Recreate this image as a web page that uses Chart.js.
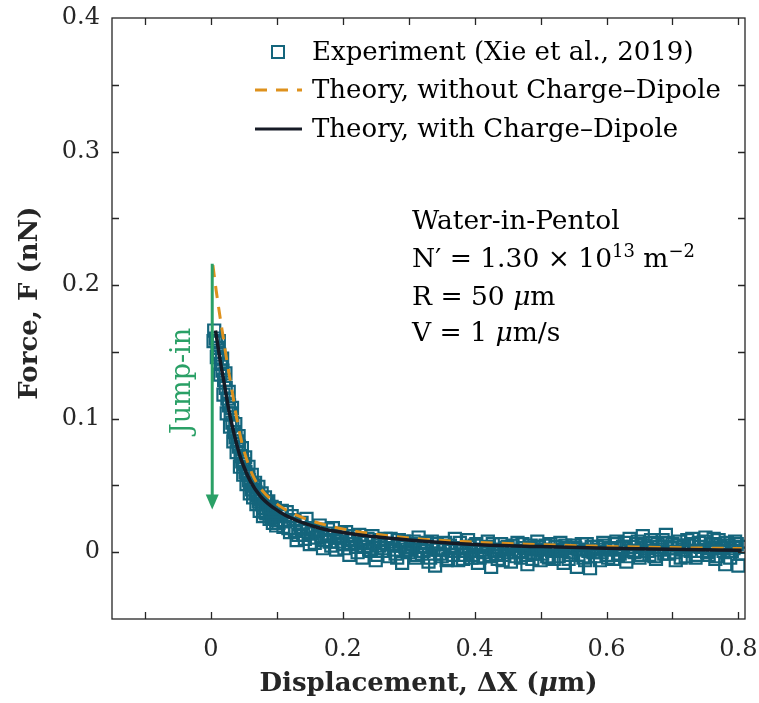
<!DOCTYPE html>
<html>
<head>
<meta charset="utf-8">
<script src="https://cdn.jsdelivr.net/npm/chart.js@4.4.0/dist/chart.umd.min.js"></script>
<style>
  html, body { margin: 0; padding: 0; background: #fff; }
</style>
</head>
<body>
<canvas id="chart" width="759" height="703"></canvas>
<script>
// Experiment (Xie et al., 2019) - main pass
const expX = [0.005,0.0075,0.010,0.0125,0.015,0.0175,0.020,0.0225,0.025,0.0275,
  0.030,0.0325,0.035,0.0375,0.040,0.0425,0.045,0.0475,0.050,0.0525,
  0.055,0.0575,0.060,0.0625,0.065,0.0675,0.070,0.0725,0.075,0.0775,
  0.080,0.0825,0.085,0.0875,0.090,0.0925,0.095,0.0975,0.100,
  0.105,0.110,0.115,0.120,0.125,0.130,0.135,0.140,0.145,0.150,
  0.155,0.160,0.165,0.170,0.175,0.180,0.185,0.190,0.195,0.200,
  0.205,0.210,0.215,0.220,0.225,0.230,0.235,0.240,0.245,0.250,
  0.255,0.260,0.265,0.270,0.275,0.280,0.285,0.290,0.295,0.300,
  0.305,0.310,0.315,0.320,0.325,0.330,0.335,0.340,0.345,0.350,
  0.355,0.360,0.365,0.370,0.375,0.380,0.385,0.390,0.395,0.400,
  0.405,0.410,0.415,0.420,0.425,0.430,0.435,0.440,0.445,0.450,
  0.455,0.460,0.465,0.470,0.475,0.480,0.485,0.490,0.495,0.500,
  0.505,0.510,0.515,0.520,0.525,0.530,0.535,0.540,0.545,0.550,
  0.555,0.560,0.565,0.570,0.575,0.580,0.585,0.590,0.595,0.600,
  0.605,0.610,0.615,0.620,0.625,0.630,0.635,0.640,0.645,0.650,
  0.655,0.660,0.665,0.670,0.675,0.680,0.685,0.690,0.695,0.700,
  0.705,0.710,0.715,0.720,0.725,0.730,0.735,0.740,0.745,0.750,
  0.755,0.760,0.765,0.770,0.775,0.780,0.785,0.790,0.795,0.800,
  0.805];
const expY = [0.166,0.160,0.153,0.148,0.141,0.136,0.129,0.123,0.115,0.110,
  0.104,0.097,0.090,0.086,0.083,0.079,0.072,0.068,0.066,0.060,
  0.058,0.054,0.052,0.047,0.050,0.045,0.043,0.038,0.040,0.036,
  0.033,0.030,0.037,0.034,0.029,0.026,0.032,0.028,0.024,
  0.027,0.019,0.030,0.015,0.024,0.009,0.021,0.013,0.025,0.006,
  0.017,0.011,0.020,0.003,0.014,0.008,0.018,0.002,0.011,0.006,
  0.015,-0.002,0.009,0.004,0.013,-0.004,0.007,0.002,0.012,-0.006,
  0.005,0.001,0.010,-0.003,0.006,-0.001,0.009,-0.008,0.004,0.000,
  0.006,-0.004,0.011,-0.001,0.004,-0.007,0.008,-0.010,0.002,-0.003,
  0.007,-0.005,0.001,0.010,-0.006,0.003,-0.002,0.009,-0.004,0.005,
  -0.008,0.002,-0.003,0.008,-0.011,0.001,-0.005,0.006,-0.002,0.004,
  -0.007,0.000,0.007,-0.004,0.003,-0.009,0.005,-0.001,0.008,-0.006,
  0.002,-0.003,0.006,-0.005,0.001,0.007,-0.008,0.003,-0.002,0.005,
  -0.011,0.002,-0.004,0.006,-0.012,0.000,0.004,-0.006,0.007,-0.002,
  0.003,-0.005,0.008,-0.001,0.004,-0.007,0.010,0.001,0.006,-0.004,
  0.012,0.003,-0.002,0.007,-0.005,0.004,0.009,0.013,-0.001,0.006,
  -0.006,0.008,0.002,-0.003,0.005,0.010,-0.004,0.007,0.001,0.011,
  -0.002,0.006,-0.005,0.009,0.003,-0.009,0.005,0.001,0.008,-0.010,
  0.004];

// second pass, filling the band
const expX2 = [0.1025,0.1075,0.1125,0.1175,0.1225,0.1275,0.1325,0.1375,0.1425,0.1475,
  0.1525,0.1575,0.1625,0.1675,0.1725,0.1775,0.1825,0.1875,0.1925,0.1975,
  0.2025,0.2075,0.2125,0.2175,0.2225,0.2275,0.2325,0.2375,0.2425,0.2475,
  0.2525,0.2575,0.2625,0.2675,0.2725,0.2775,0.2825,0.2875,0.2925,0.2975,
  0.3025,0.3075,0.3125,0.3175,0.3225,0.3275,0.3325,0.3375,0.3425,0.3475,
  0.3525,0.3575,0.3625,0.3675,0.3725,0.3775,0.3825,0.3875,0.3925,0.3975,
  0.4025,0.4075,0.4125,0.4175,0.4225,0.4275,0.4325,0.4375,0.4425,0.4475,
  0.4525,0.4575,0.4625,0.4675,0.4725,0.4775,0.4825,0.4875,0.4925,0.4975,
  0.5025,0.5075,0.5125,0.5175,0.5225,0.5275,0.5325,0.5375,0.5425,0.5475,
  0.5525,0.5575,0.5625,0.5675,0.5725,0.5775,0.5825,0.5875,0.5925,0.5975,
  0.6025,0.6075,0.6125,0.6175,0.6225,0.6275,0.6325,0.6375,0.6425,0.6475,
  0.6525,0.6575,0.6625,0.6675,0.6725,0.6775,0.6825,0.6875,0.6925,0.6975,
  0.7025,0.7075,0.7125,0.7175,0.7225,0.7275,0.7325,0.7375,0.7425,0.7475,
  0.7525,0.7575,0.7625,0.7675,0.7725,0.7775,0.7825,0.7875,0.7925,0.7975,
  0.8025];
const expY2 = [0.022,0.031,0.023,0.018,0.027,0.016,0.013,0.022,0.010,0.018,
  0.014,0.007,0.016,0.012,0.009,0.017,0.005,0.012,0.008,0.014,
  0.003,0.010,0.006,0.012,0.000,0.008,0.004,0.010,0.001,0.007,
  -0.002,0.009,0.003,0.006,0.010,0.002,-0.004,0.005,0.008,0.002,
  0.002,0.008,-0.002,0.004,0.001,0.007,-0.004,0.003,0.006,-0.001,
  0.002,-0.006,0.005,-0.002,0.003,0.007,-0.005,0.001,0.004,-0.002,
  0.006,-0.004,0.000,0.004,-0.003,0.006,-0.001,0.002,-0.006,0.003,
  0.000,0.005,-0.003,0.001,0.006,-0.002,0.003,-0.005,0.002,0.004,
  -0.001,0.005,-0.004,0.001,0.004,-0.003,0.002,0.005,-0.005,0.000,
  0.003,-0.002,0.006,-0.006,0.001,0.004,-0.003,0.002,0.000,0.005,
  -0.004,0.002,0.006,-0.002,0.003,0.007,-0.003,0.004,0.000,0.008,
  -0.002,0.005,0.001,0.009,-0.003,0.006,0.002,-0.001,0.007,0.003,
  0.000,0.005,-0.004,0.004,0.009,0.001,0.006,-0.002,0.004,0.008,
  0.000,0.003,0.010,-0.003,0.005,0.001,0.007,-0.004,0.003,0.006,
  -0.001];

// extra points on the steep part
const expX3 = [0.004,0.009,0.014,0.019,0.024,0.029,0.034,0.039,0.044,0.049,
  0.054,0.059,0.064,0.069,0.074,0.079,0.084,0.089,0.094,0.099,
  0.012,0.017,0.022,0.027,0.032,0.037,0.042,0.047,0.052,0.057,
  0.062,0.067,0.072,0.077,0.082,0.087,0.092,0.097];
const expY3 = [0.158,0.146,0.133,0.118,0.104,0.094,0.083,0.075,0.064,0.058,
  0.051,0.044,0.041,0.036,0.031,0.027,0.029,0.025,0.022,0.020,
  0.158,0.145,0.134,0.120,0.108,0.096,0.087,0.078,0.071,0.064,
  0.058,0.052,0.049,0.044,0.041,0.038,0.034,0.033];

// Theory, without Charge–Dipole
const noDipX = [0.003,0.008,0.013,0.018,0.024,0.032,0.040,0.048,0.056,0.065,0.080,0.095,0.12,0.15,0.185,0.25,0.32,0.39,0.48,0.58,0.68,0.805];
const noDipY = [0.215,0.196,0.179,0.163,0.144,0.121,0.098,0.080,0.067,0.056,0.045,0.038,0.030,0.024,0.019,0.0135,0.0098,0.0078,0.006,0.0046,0.0036,0.0027];

// Theory, with Charge–Dipole
const dipX = [0.007,0.012,0.016,0.020,0.027,0.035,0.043,0.050,0.060,0.075,0.090,0.105,0.120,0.140,0.166,0.20,0.25,0.30,0.40,0.50,0.60,0.70,0.805];
const dipY = [0.166,0.150,0.138,0.127,0.107,0.089,0.074,0.064,0.053,0.042,0.035,0.030,0.026,0.022,0.018,0.0148,0.0115,0.0092,0.0058,0.0042,0.003,0.0022,0.0014];

const xTicks = [0, 0.2, 0.4, 0.6, 0.8];
const yTicks = [0, 0.1, 0.2, 0.3, 0.4];

const teal = '#14657c';
const orange = '#de911d';
const navy = '#161b26';
const green = '#2aa066';
const axisCol = '#262626';
const serif = '"DejaVu Serif", serif';

const pts = (xs, ys) => xs.map((x, i) => ({ x: x, y: ys[i] }));
const expPts = pts(expX, expY).concat(pts(expX2, expY2), pts(expX3, expY3));

const decor = {
  id: 'decor',
  afterDatasetsDraw(chart) {
    const ctx = chart.ctx;
    const xs = chart.scales.x, ys = chart.scales.y;
    const a = chart.chartArea;
    ctx.save();

    // jump-in arrow
    const ax = xs.getPixelForValue(0.002);
    const y0 = ys.getPixelForValue(0.216), y1 = ys.getPixelForValue(0.032);
    ctx.strokeStyle = green; ctx.fillStyle = green; ctx.lineWidth = 3;
    ctx.beginPath(); ctx.moveTo(ax, y0); ctx.lineTo(ax, y1 - 12); ctx.stroke();
    ctx.beginPath(); ctx.moveTo(ax - 6.5, y1 - 15); ctx.lineTo(ax + 6.5, y1 - 15); ctx.lineTo(ax, y1); ctx.closePath(); ctx.fill();
    ctx.save();
    ctx.translate(190, 381); ctx.rotate(-Math.PI / 2);
    ctx.font = '27px ' + serif; ctx.textAlign = 'center'; ctx.textBaseline = 'alphabetic';
    ctx.fillText('Jump-in', 0, 0);
    ctx.restore();

    // box and inward ticks
    ctx.strokeStyle = axisCol; ctx.lineWidth = 1.3;
    ctx.strokeRect(a.left, a.top, a.right - a.left, a.bottom - a.top);
    ctx.beginPath();
    for (let v = -0.1; v < 0.815; v += 0.1) {
      const p = Math.round(xs.getPixelForValue(v)) + 0.5;
      ctx.moveTo(p, a.bottom); ctx.lineTo(p, a.bottom - 7);
      ctx.moveTo(p, a.top); ctx.lineTo(p, a.top + 7);
    }
    for (let v = 0; v < 0.39; v += 0.05) {
      const p = Math.round(ys.getPixelForValue(v)) + 0.5;
      ctx.moveTo(a.left, p); ctx.lineTo(a.left + 7, p);
      ctx.moveTo(a.right, p); ctx.lineTo(a.right - 7, p);
    }
    ctx.stroke();

    // legend
    ctx.font = '26px ' + serif; ctx.fillStyle = '#000'; ctx.textAlign = 'left'; ctx.textBaseline = 'middle';
    ctx.strokeStyle = teal; ctx.lineWidth = 2;
    ctx.strokeRect(272, 46, 12, 12);
    ctx.fillText('Experiment (Xie et al., 2019)', 312, 53);
    ctx.strokeStyle = orange; ctx.lineWidth = 3; ctx.setLineDash([12, 9]);
    ctx.beginPath(); ctx.moveTo(255, 90); ctx.lineTo(302, 90); ctx.stroke();
    ctx.setLineDash([]);
    ctx.fillText('Theory, without Charge\u2013Dipole', 312, 91);
    ctx.strokeStyle = navy; ctx.lineWidth = 3;
    ctx.beginPath(); ctx.moveTo(255, 129); ctx.lineTo(302, 129); ctx.stroke();
    ctx.fillText('Theory, with Charge\u2013Dipole', 312, 130);

    // annotation block
    ctx.textBaseline = 'alphabetic';
    const run = (parts, x, y) => {
      parts.forEach(p => {
        ctx.font = p[1];
        ctx.fillText(p[0], x, y + (p[2] || 0));
        x += ctx.measureText(p[0]).width;
      });
    };
    const n = '26.5px ' + serif, it = 'italic 26.5px ' + serif, sm = '18px ' + serif;
    run([['Water-in-Pentol', n]], 412, 229);
    run([['N\u2032 = 1.30 \u00d7 10', n], ['13', sm, -10], [' m', n], ['\u22122', sm, -10]], 412, 267);
    run([['R = 50 ', n], ['\u03bc', it], ['m', n]], 412, 305);
    run([['V = 1 ', n], ['\u03bc', it], ['m/s', n]], 412, 341);

    // axis titles
    ctx.fillStyle = axisCol;
    const b = 'bold 26px ' + serif, bi = 'bold italic 26px ' + serif;
    const xt = [['Displacement, \u0394X (', b], ['\u03bc', bi], ['m)', b]];
    let w = 0;
    xt.forEach(p => { ctx.font = p[1]; w += ctx.measureText(p[0]).width; });
    run(xt, (a.left + a.right) / 2 - w / 2, 691);
    ctx.save();
    ctx.translate(37, 303); ctx.rotate(-Math.PI / 2);
    ctx.font = b; ctx.textAlign = 'center';
    ctx.fillText('Force, F (nN)', 0, 0);
    ctx.restore();

    ctx.restore();
  }
};

new Chart(document.getElementById('chart'), {
  type: 'scatter',
  data: {
    datasets: [{
      label: 'Theory, with Charge\u2013Dipole',
      data: pts(dipX, dipY),
      showLine: true,
      borderColor: navy,
      borderWidth: 3.5,
      pointRadius: 0,
      cubicInterpolationMode: 'monotone',
      order: 1
    }, {
      label: 'Theory, without Charge\u2013Dipole',
      data: pts(noDipX, noDipY),
      showLine: true,
      borderColor: orange,
      borderWidth: 3,
      borderDash: [12, 9],
      pointRadius: 0,
      cubicInterpolationMode: 'monotone',
      order: 2
    }, {
      label: 'Experiment (Xie et al., 2019)',
      data: expPts,
      pointStyle: 'rect',
      pointRadius: 8.5,
      pointBorderWidth: 2.2,
      pointBorderColor: teal,
      pointBackgroundColor: 'rgba(0,0,0,0)',
      order: 3
    }]
  },
  options: {
    responsive: false,
    animation: false,
    layout: { padding: { left: 0, top: 18, right: 14, bottom: 0 } },
    plugins: { legend: { display: false }, tooltip: { enabled: false } },
    scales: {
      x: {
        type: 'linear',
        min: -0.15,
        max: 0.81,
        afterFit: s => { s.height = 84; s.paddingLeft = 0; s.paddingRight = 0; },
        afterBuildTicks: s => { s.ticks = xTicks.map(v => ({ value: v })); },
        grid: { display: false, drawTicks: false },
        border: { display: false },
        ticks: { padding: 16, color: axisCol, font: { family: serif, size: 24 }, callback: v => String(v), maxRotation: 0 }
      },
      y: {
        type: 'linear',
        min: -0.05,
        max: 0.4,
        afterFit: s => { s.width = 112; s.paddingTop = 0; s.paddingBottom = 0; },
        afterBuildTicks: s => { s.ticks = yTicks.map(v => ({ value: v })); },
        grid: { display: false, drawTicks: false },
        border: { display: false },
        ticks: { padding: 12, color: axisCol, font: { family: serif, size: 24 }, callback: v => String(v) }
      }
    }
  },
  plugins: [decor]
});
</script>
</body>
</html>
